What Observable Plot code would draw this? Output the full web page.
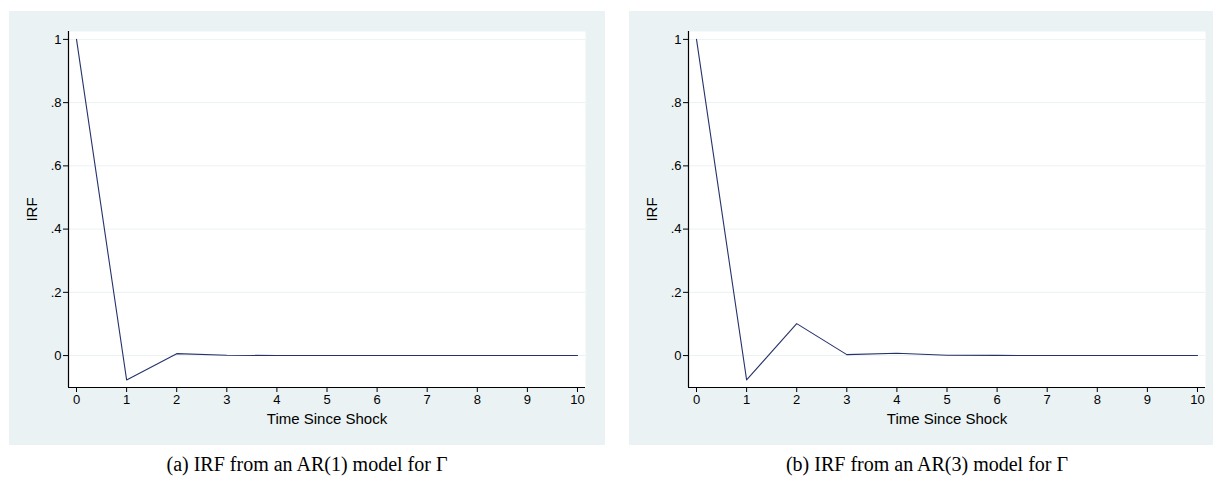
<!DOCTYPE html>
<html>
<head>
<meta charset="utf-8">
<script src="https://cdn.jsdelivr.net/npm/d3@7"></script>
<script src="https://cdn.jsdelivr.net/npm/@observablehq/plot@0.6"></script>
<style>
  html, body { margin: 0; padding: 0; background: #fff; overflow: hidden; }
  #root { position: relative; width: 1213px; height: 484px; overflow: hidden; }
  .panel { position: absolute; top: 11px; width: 596px; height: 434px; background: #eaf2f3; }
  .panel svg { display: block; }
  .caption { position: absolute; top: 452px; width: 596px; text-align: center; line-height: 24px;
    font-family: "Liberation Serif", "Times New Roman", serif; font-size: 20px; color: #000; }
</style>
</head>
<body>
<div id="root"></div>
<script>
// Data
const steps = [0, 1, 2, 3, 4, 5, 6, 7, 8, 9, 10];
const irfAR1 = [1, -0.077, 0.006, 0.001, 0, 0, 0, 0, 0, 0, 0];
const irfAR3 = [1, -0.077, 0.101, 0.003, 0.0075, 0.001, 0.0005, 0, 0, 0, 0];
const yTicks = [0, 0.2, 0.4, 0.6, 0.8, 1];
const xTicks = [0, 1, 2, 3, 4, 5, 6, 7, 8, 9, 10];
const xLabel = "Time Since Shock";
const yLabel = "IRF";
const captions = ["(a) IRF from an AR(1) model for \u0393", "(b) IRF from an AR(3) model for \u0393"];
const panelLefts = [9, 629];

const xDomain = [-0.16, 10.16];
const yDomain = [-0.101, 1.025];
const fmt = d => d === 0 ? "0" : d === 1 ? "1" : String(d).replace(/^0\./, ".");

function makePlot(values) {
  const data = steps.map((s, i) => ({step: s, irf: values[i]}));
  return Plot.plot({
    width: 596,
    height: 434,
    marginLeft: 59,
    marginRight: 20,
    marginTop: 20,
    marginBottom: 58,
    style: {background: "transparent", fontFamily: "'Liberation Sans', Arial, sans-serif", fontSize: "13px", color: "#000"},
    x: {domain: xDomain},
    y: {domain: yDomain},
    marks: [
      Plot.frame({fill: "white", stroke: null}),
      Plot.ruleY(yTicks, {stroke: "#eaf2f3", strokeWidth: 1}),
      Plot.line(data, {x: "step", y: "irf", stroke: "#26336b", strokeWidth: 1.1}),
      Plot.ruleX([xDomain[0]], {stroke: "#000", strokeWidth: 1.2}),
      Plot.ruleY([yDomain[0]], {stroke: "#000", strokeWidth: 1.2}),
      Plot.axisY({ticks: yTicks, tickFormat: fmt, tickSize: 5, tickPadding: 2, label: null, fontSize: 13}),
      Plot.axisX({ticks: xTicks, tickFormat: d => String(d), tickSize: 5, tickPadding: 2, label: null, fontSize: 13}),
      Plot.text([yLabel], {frameAnchor: "left", dx: -36, rotate: -90, text: d => d, fontSize: 15, textAnchor: "middle"}),
      Plot.text([xLabel], {frameAnchor: "bottom", dy: 36, text: d => d, fontSize: 15})
    ]
  });
}

const root = document.getElementById("root");
[irfAR1, irfAR3].forEach((vals, i) => {
  const panel = document.createElement("div");
  panel.className = "panel";
  panel.style.left = panelLefts[i] + "px";
  panel.appendChild(makePlot(vals));
  root.appendChild(panel);
  const cap = document.createElement("div");
  cap.className = "caption";
  cap.style.left = panelLefts[i] + "px";
  cap.textContent = captions[i];
  root.appendChild(cap);
});
</script>
</body>
</html>
